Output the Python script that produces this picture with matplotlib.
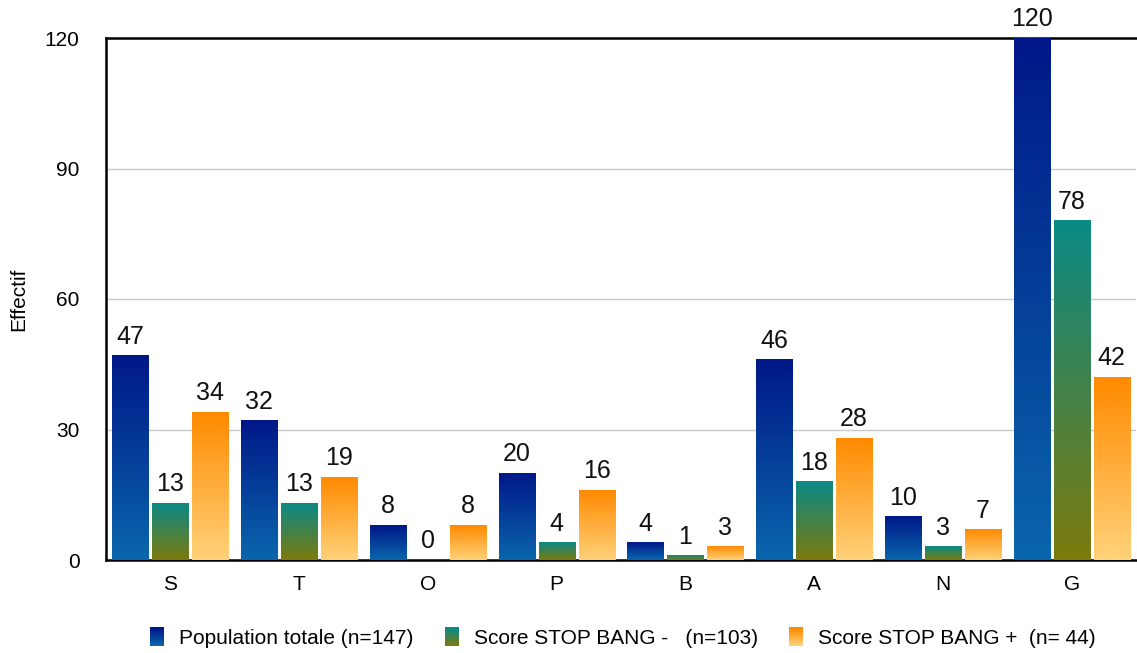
import numpy as np
import matplotlib
matplotlib.use("Agg")
import matplotlib.pyplot as plt
from matplotlib.colors import LinearSegmentedColormap
from matplotlib.patches import Rectangle
from matplotlib.legend_handler import HandlerBase

plt.rcParams["font.family"] = ["Liberation Sans", "DejaVu Sans"]

categories = ["S", "T", "O", "P", "B", "A", "N", "G"]
pop_totale = [47, 32, 8, 20, 4, 46, 10, 120]
stop_bang_neg = [13, 13, 0, 4, 1, 18, 3, 78]
stop_bang_pos = [34, 19, 8, 16, 3, 28, 7, 42]
series_labels = ["Population totale (n=147)",
                 "Score STOP BANG -   (n=103)",
                 "Score STOP BANG +  (n= 44)"]
yticks = [0, 30, 60, 90, 120]

# gradients: (bottom colour, top colour)
gradients = [("#0a66ac", "#001888"),
             ("#7c7a0c", "#0a8a86"),
             ("#ffd27a", "#ff8a00")]


def make_cmap(bottom, top):
    return LinearSegmentedColormap.from_list("g", [bottom, top])


class GradientHandler(HandlerBase):
    def __init__(self, bottom, top):
        super().__init__()
        self.bottom, self.top = bottom, top

    def create_artists(self, legend, orig_handle, xdescent, ydescent,
                       width, height, fontsize, trans):
        cmap = make_cmap(self.bottom, self.top)
        n = 12
        arts = []
        for i in range(n):
            r = Rectangle((-xdescent, -ydescent + height * i / n), width,
                          height / n + 0.3, facecolor=cmap(i / (n - 1)),
                          edgecolor="none", transform=trans)
            arts.append(r)
        return arts


fig = plt.figure(figsize=(11.37, 6.53), dpi=100)
ax = fig.add_axes([106 / 1137, 93 / 653, 1030 / 1137, 522 / 653])

x = np.arange(len(categories))
width = 0.28
offset = 0.31
all_series = [pop_totale, stop_bang_neg, stop_bang_pos]
handles = []
grad = np.linspace(0, 1, 256).reshape(-1, 1)

for k, (vals, (cb, ct)) in enumerate(zip(all_series, gradients)):
    bars = ax.bar(x + (k - 1) * offset, vals, width, facecolor="none",
                  edgecolor="none", zorder=3)
    cmap = make_cmap(cb, ct)
    for b, v in zip(bars, vals):
        x0, y0 = b.get_x(), b.get_y()
        w, h = b.get_width(), b.get_height()
        if h > 0:
            ax.imshow(grad, extent=[x0, x0 + w, y0, y0 + h], origin="lower",
                      cmap=cmap, aspect="auto", zorder=3, interpolation="bilinear")
        ax.text(x0 + w / 2, v + 1.6, str(v), ha="center", va="bottom",
                fontsize=18, color="#111111", zorder=4)
    handles.append(Rectangle((0, 0), 1, 1))

ax.set_xlim(-0.5, len(categories) - 0.5)
ax.set_ylim(0, 120)
ax.set_yticks(yticks)
ax.set_xticks(x)
ax.set_xticklabels(categories)
ax.tick_params(axis="both", length=0, labelsize=15)
ax.tick_params(axis="x", pad=11)
ax.tick_params(axis="y", pad=19)
ax.yaxis.grid(True, color="#c8c8c8", linewidth=1)
ax.set_axisbelow(True)
ax.spines["right"].set_visible(False)
for s in ["left", "bottom", "top"]:
    ax.spines[s].set_linewidth(1.8)
    ax.spines[s].set_color("black")
ax.set_ylabel("Effectif", fontsize=15)
ax.yaxis.set_label_coords(-78 / 1030, 0.5)

handler_map = {h: GradientHandler(cb, ct) for h, (cb, ct) in zip(handles, gradients)}
fig.legend(handles, series_labels, handler_map=handler_map, loc="center",
           bbox_to_anchor=(0.548, 15 / 653), ncol=3, frameon=False,
           fontsize=15, handlelength=0.67, handleheight=1.0, columnspacing=1.5,
           handletextpad=0.72)

fig.savefig("out.png", dpi=100)
plt.close(fig)
